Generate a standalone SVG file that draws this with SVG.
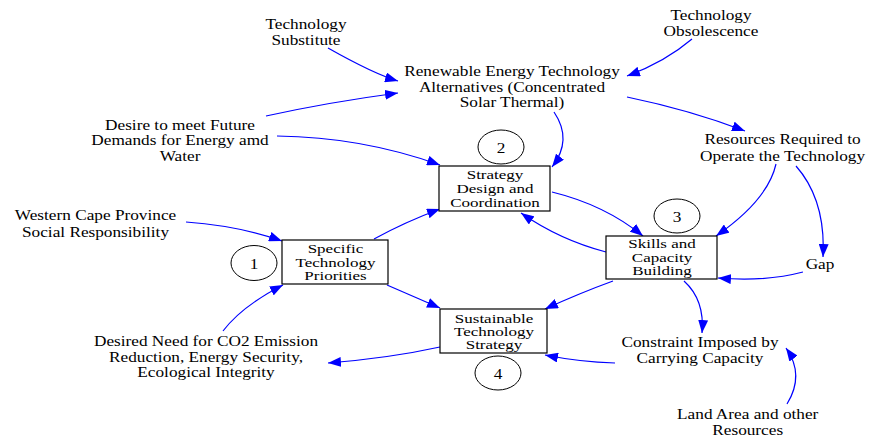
<svg xmlns="http://www.w3.org/2000/svg" width="870" height="439" viewBox="0 0 870 439">
<style>
.t{font-family:'Liberation Serif','Times New Roman',serif;font-size:13.5px;fill:#000;text-anchor:middle}
.bt{font-family:'Liberation Serif','Times New Roman',serif;font-size:13.5px;fill:#000;text-anchor:middle}
.box{fill:#fff;stroke:#000;stroke-width:1.2}
.loop{fill:#fff;stroke:#000;stroke-width:1}
.arc{fill:none;stroke:#0000ff;stroke-width:1.2;marker-end:url(#ah)}
</style>
<defs>
<marker id="ah" markerUnits="userSpaceOnUse" markerWidth="14" markerHeight="10" viewBox="0 0 14 10" refX="13" refY="5" orient="auto">
<path d="M0,0 L13,5 L0,10 Z" fill="#0000ff"/>
</marker>
</defs>
<rect width="870" height="439" fill="#fff"/>
<g id="connectors">
<path class="arc" d="M328,48 Q374,74 398,81"/>
<path class="arc" d="M266,116 Q330,102 398,93"/>
<path class="arc" d="M277,136 Q362,137 440,165"/>
<path class="arc" d="M692,39 Q665,62 627,76"/>
<path class="arc" d="M554,112 Q573,140 552,167"/>
<path class="arc" d="M627,97 Q690,110 745,131"/>
<path class="arc" d="M776,164 Q768,200 716,236"/>
<path class="arc" d="M796,166 Q826,200 823,257"/>
<path class="arc" d="M803,272 Q765,282 718,278"/>
<path class="arc" d="M606,252 Q560,240 521,213"/>
<path class="arc" d="M552,192 Q605,205 643,236"/>
<path class="arc" d="M374,239 Q405,222 440,209"/>
<path class="arc" d="M186,222 Q240,226 282,241"/>
<path class="arc" d="M223,331 Q242,306 283,285"/>
<path class="arc" d="M387,285 Q410,295 440,308"/>
<path class="arc" d="M613,281 Q580,293 545,309"/>
<path class="arc" d="M440,347 Q390,358 328,363"/>
<path class="arc" d="M684,281 Q705,300 702,333"/>
<path class="arc" d="M615,363 Q580,362 545,355"/>
<path class="arc" d="M787,404 Q805,375 786,348"/>
</g>
<g id="tech-substitute"><text class="t" transform="translate(306,29) scale(1.278,1.111)"><tspan x="0" y="0">Technology</tspan><tspan x="0" y="14.85">Substitute</tspan></text></g>
<g id="tech-obsolescence"><text class="t" transform="translate(711,19.5) scale(1.278,1.111)"><tspan x="0" y="0">Technology</tspan><tspan x="0" y="14.85">Obsolescence</tspan></text></g>
<g id="renewable"><text class="t" transform="translate(512,76) scale(1.278,1.111)"><tspan x="0" y="0">Renewable Energy Technology</tspan><tspan x="0" y="14.13">Alternatives (Concentrated</tspan><tspan x="0" y="28.26">Solar Thermal)</tspan></text></g>
<g id="desire"><text class="t" transform="translate(180,129.5) scale(1.278,1.111)"><tspan x="0" y="0">Desire to meet Future</tspan><tspan x="0" y="14.4">Demands for Energy amd</tspan><tspan x="0" y="28.8">Water</tspan></text></g>
<g id="western-cape"><text class="t" transform="translate(95.5,220) scale(1.278,1.111)"><tspan x="0" y="0">Western Cape Province</tspan><tspan x="0" y="15.03">Social Responsibility</tspan></text></g>
<g id="resources-required"><text class="t" transform="translate(782.5,144.3) scale(1.278,1.111)"><tspan x="0" y="0">Resources Required to</tspan><tspan x="0" y="14.76">Operate the Technology</tspan></text></g>
<g id="gap"><text class="t" transform="translate(820,269.3) scale(1.278,1.111)">Gap</text></g>
<g id="constraint"><text class="t" transform="translate(700,346.7) scale(1.278,1.111)"><tspan x="0" y="0">Constraint Imposed by</tspan><tspan x="0" y="14.67">Carrying Capacity</tspan></text></g>
<g id="land-area"><text class="t" transform="translate(747.7,419) scale(1.278,1.111)"><tspan x="0" y="0">Land Area and other</tspan><tspan x="0" y="14.4">Resources</tspan></text></g>
<g id="desired-need"><text class="t" transform="translate(206,345.7) scale(1.278,1.111)"><tspan x="0" y="0">Desired Need for CO2 Emission</tspan><tspan x="0" y="14.4">Reduction, Energy Security,</tspan><tspan x="0" y="28.44">Ecological Integrity</tspan></text></g>
<g id="specific-priorities"><rect class="box" x="282" y="240" width="106" height="44"/><text class="bt" transform="translate(335.5,253) scale(1.26,1)"><tspan x="0" y="0">Specific</tspan><tspan x="0" y="13.6">Technology</tspan><tspan x="0" y="27">Priorities</tspan></text></g>
<g id="strategy-design"><rect class="box" x="439" y="166" width="111" height="45"/><text class="bt" transform="translate(495,179) scale(1.26,1)"><tspan x="0" y="0">Strategy</tspan><tspan x="0" y="14">Design and</tspan><tspan x="0" y="28">Coordination</tspan></text></g>
<g id="skills-capacity"><rect class="box" x="606" y="236" width="111" height="43"/><text class="bt" transform="translate(662,248) scale(1.26,1)"><tspan x="0" y="0">Skills and</tspan><tspan x="0" y="14">Capacity</tspan><tspan x="0" y="27">Building</tspan></text></g>
<g id="sustainable-strategy"><rect class="box" x="440" y="309" width="107" height="44"/><text class="bt" transform="translate(494,323) scale(1.26,1)"><tspan x="0" y="0">Sustainable</tspan><tspan x="0" y="13.5">Technology</tspan><tspan x="0" y="26.5">Strategy</tspan></text></g>
<g id="loop-1"><ellipse class="loop" cx="254" cy="263" rx="23" ry="17.5"/><text class="t" transform="translate(254,268.5) scale(1.278,1.111)">1</text></g>
<g id="loop-2"><ellipse class="loop" cx="501" cy="147" rx="23" ry="17"/><text class="t" transform="translate(501,152.5) scale(1.278,1.111)">2</text></g>
<g id="loop-3"><ellipse class="loop" cx="677" cy="216" rx="23" ry="17"/><text class="t" transform="translate(677,221.5) scale(1.278,1.111)">3</text></g>
<g id="loop-4"><ellipse class="loop" cx="498" cy="373" rx="23" ry="17"/><text class="t" transform="translate(498,378.5) scale(1.278,1.111)">4</text></g>
</svg>
